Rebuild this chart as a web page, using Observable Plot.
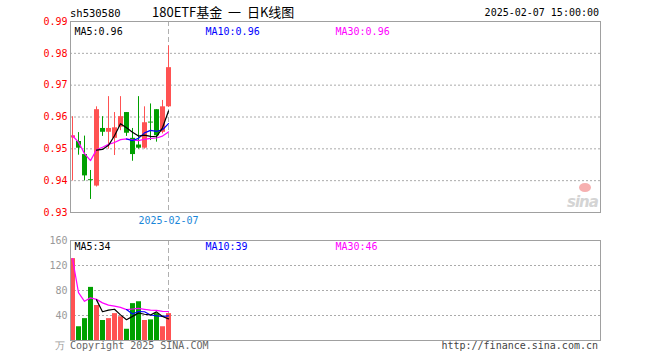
<!DOCTYPE html>
<html><head><meta charset="utf-8">
<script src="https://cdn.jsdelivr.net/npm/d3@7"></script>
<script src="https://cdn.jsdelivr.net/npm/@observablehq/plot@0.6"></script>
<style>
body{margin:0;background:#fff;}
#wrap{position:relative;width:660px;height:360px;overflow:hidden;font-family:"DejaVu Sans Mono",monospace;font-size:10px;color:#000;}
.abs{position:absolute;white-space:pre;line-height:1;}
#main,#vol{position:absolute;left:0;}
#main{top:0;} #vol{top:230px;}
</style></head><body><div id="wrap">
<div id="main"></div><div id="vol"></div>
<div class="abs" id="code" style="left:70px;top:8px;font-size:10.5px;"></div>
<div class="abs" id="title" style="left:152px;top:5px;font-size:13px;font-family:'Noto Sans CJK SC',sans-serif;"></div>
<div class="abs" id="stamp" style="right:61px;top:8px;"></div>
<div class="abs" id="copy" style="left:70px;top:341px;color:#666;"></div>
<div class="abs" id="url" style="right:62px;top:341px;color:#444;"></div>
<div class="abs" style="left:579px;top:183px;width:12px;height:9px;border-radius:50%;background:#f6b0b0;"></div>
<div class="abs" style="left:567px;top:193px;font:italic bold 15px 'DejaVu Sans',sans-serif;color:#d4d4d4;letter-spacing:-1px;">sina</div>
</div>
<script>
const code = "sh530580";
const title = "180ETF基金  一  日K线图";
const stamp = "2025-02-07 15:00:00";
const copyText = "Copyright 2025 SINA.COM";
const urlText = "http://finance.sina.com.cn";

const opens  = [0.9534,0.9523,0.9482,0.9403,0.9383,0.9564,0.9552,0.9533,0.9568,0.9614,0.9533,0.9512,0.9502,0.9584,0.9623,0.9552,0.9632];
const closes = [0.9541,0.9502,0.9415,0.9400,0.9623,0.9552,0.9564,0.9566,0.9601,0.9549,0.9482,0.9502,0.9582,0.9581,0.9541,0.9632,0.9755];
const highs  = [0.9601,0.9551,0.9540,0.9432,0.9632,0.9601,0.9664,0.9614,0.9664,0.9614,0.9564,0.9664,0.9632,0.9641,0.9623,0.9652,0.9823];
const lows   = [0.9399,0.9480,0.9399,0.9341,0.9380,0.9539,0.9499,0.9479,0.9557,0.9539,0.9461,0.9499,0.9499,0.9526,0.9521,0.9547,0.9630];
const ma5  = [null,null,null,null,0.9496,0.9498,0.9511,0.9541,0.9579,0.9566,0.9552,0.9540,0.9543,0.9539,0.9538,0.9566,0.9619];
const ma10 = [null,null,null,null,null,null,null,null,null,0.9531,0.9526,0.9533,0.9550,0.9558,0.9555,0.9560,0.9579];
const ma30 = [0.9541,0.9521,0.9485,0.9463,0.9497,0.9505,0.9514,0.9520,0.9529,0.9531,0.9528,0.9526,0.9530,0.9533,0.9534,0.9540,0.9553];

const volumes = [131,22,35,85,56,32,35,43,38,18,59,62,32,33,43,22,43];
const vma5  = [null,null,null,null,65,46,48.6,50,41,33.2,38.6,44,42,40.8,45.8,38.4,34.6];
const vma10 = [null,null,null,null,null,null,null,null,null,49.5,42.3,46.3,46,40.8,39.5,38.5,39.3];
const vma30 = [131,76.5,62.7,68.2,65.8,60.2,56.6,54.9,53,49.5,50.4,51.3,49.9,48.6,48.3,46.6,46.4];

const priceTicks = [0.93,0.94,0.95,0.96,0.97,0.98,0.99];
const priceGrid = [0.94,0.95,0.96,0.97,0.98];
const volTicks = [40,80,120,160];
const volGrid = [40,80,120];
const volUnit = "万";
const dateLabels = ["2025-02-07"];
const dateIndex = [16];
const priceLegend = ["MA5:0.96","MA10:0.96","MA30:0.96"];
const volLegend = ["MA5:34","MA10:39","MA30:46"];

document.getElementById("code").textContent = code;
document.getElementById("title").textContent = title;
document.getElementById("stamp").textContent = stamp;
document.getElementById("copy").textContent = copyText;
document.getElementById("url").textContent = urlText;

const RED = "#ff5252", GREEN = "#00a000", GRID = "#aaa", FRAME = "#a0a0a0";
const rows = opens.map((o,i)=>({i, open:o, close:closes[i], high:highs[i], low:lows[i], vol:volumes[i],
  ma5:ma5[i], ma10:ma10[i], ma30:ma30[i], vma5:vma5[i], vma10:vma10[i], vma30:vma30[i]}));
const up = rows.filter(d=>d.close>=d.open), down = rows.filter(d=>d.close<d.open);
const legendColors = ["#000","#0000ff","#ff00ff"];
const legendDx = [4,135,265];
const font = {fontFamily:"DejaVu Sans Mono, monospace", fontSize:"10px", background:"transparent", overflow:"visible"};

const main = Plot.plot({
  width:660, height:230, marginLeft:70, marginRight:60, marginTop:21, marginBottom:18,
  x:{domain:[-1/3,88], axis:null}, y:{domain:[0.93,0.99], axis:null},
  style:font,
  marks:[
    Plot.ruleY(priceGrid,{stroke:GRID, strokeDasharray:"2,2"}),
    Plot.ruleX(dateIndex,{stroke:"#b0b0b0", strokeDasharray:"5,3"}),
    Plot.ruleX(up,{x:"i", y1:"low", y2:"high", stroke:RED}),
    Plot.ruleX(down,{x:"i", y1:"low", y2:"high", stroke:GREEN}),
    Plot.ruleX(up,{x:"i", y1:"open", y2:"close", stroke:RED, strokeWidth:5}),
    Plot.ruleX(down,{x:"i", y1:"open", y2:"close", stroke:GREEN, strokeWidth:5}),
    Plot.line(rows,{x:"i", y:"ma30", stroke:"#ff00ff", strokeWidth:1.2}),
    Plot.line(rows,{x:"i", y:"ma10", stroke:"#0000ff", strokeWidth:1.2}),
    Plot.line(rows,{x:"i", y:"ma5", stroke:"#000", strokeWidth:1.2}),
    Plot.frame({stroke:FRAME}),
    Plot.text(priceTicks,{y:d=>d, text:d=>d.toFixed(2), frameAnchor:"left", textAnchor:"end", dx:-3, fill:"#ff0000"}),
    Plot.text(dateLabels,{x:dateIndex, text:d=>d, frameAnchor:"bottom", lineAnchor:"top", dy:4, fill:"#1a86d8"}),
    Plot.text(priceLegend,{text:d=>d, frameAnchor:"top-left", lineAnchor:"top", textAnchor:"start", dy:6, fill:(d,i)=>legendColors[i]})
  ]
});
document.getElementById("main").appendChild(main);

const vol = Plot.plot({
  width:660, height:130, marginLeft:70, marginRight:60, marginTop:10, marginBottom:20,
  x:{domain:[-1/3,88], axis:null}, y:{domain:[0,160], axis:null},
  style:font,
  marks:[
    Plot.ruleY(volGrid,{stroke:GRID, strokeDasharray:"2,2"}),
    Plot.ruleX(dateIndex,{stroke:"#b0b0b0", strokeDasharray:"5,3"}),
    Plot.ruleX(up,{x:"i", y1:0, y2:"vol", stroke:RED, strokeWidth:5}),
    Plot.ruleX(down,{x:"i", y1:0, y2:"vol", stroke:GREEN, strokeWidth:5}),
    Plot.line(rows,{x:"i", y:"vma30", stroke:"#ff00ff", strokeWidth:1.2}),
    Plot.line(rows,{x:"i", y:"vma10", stroke:"#0000ff", strokeWidth:1.2}),
    Plot.line(rows,{x:"i", y:"vma5", stroke:"#000", strokeWidth:1.2}),
    Plot.frame({stroke:FRAME}),
    Plot.text(volTicks,{y:d=>d, text:d=>String(d), frameAnchor:"left", textAnchor:"end", dx:-3, fill:"#999"}),
    Plot.text([volUnit],{text:d=>d, frameAnchor:"bottom-left", textAnchor:"end", lineAnchor:"middle", dx:-6, dy:5, fill:"#999"}),
    Plot.text(volLegend,{text:d=>d, frameAnchor:"top-left", lineAnchor:"top", textAnchor:"start", dy:2, fill:(d,i)=>legendColors[i]})
  ]
});
document.getElementById("vol").appendChild(vol);

// spread legend labels horizontally
for (const svg of [main, vol]) {
  const groups = svg.querySelectorAll("g[aria-label='text']");
  const g = groups[groups.length-1];
  g.querySelectorAll("text").forEach((t,i)=>{
    const tr = t.getAttribute("transform") || "";
    t.setAttribute("transform", tr + ` translate(${legendDx[i]},0)`);
  });
}
</script></body></html>
